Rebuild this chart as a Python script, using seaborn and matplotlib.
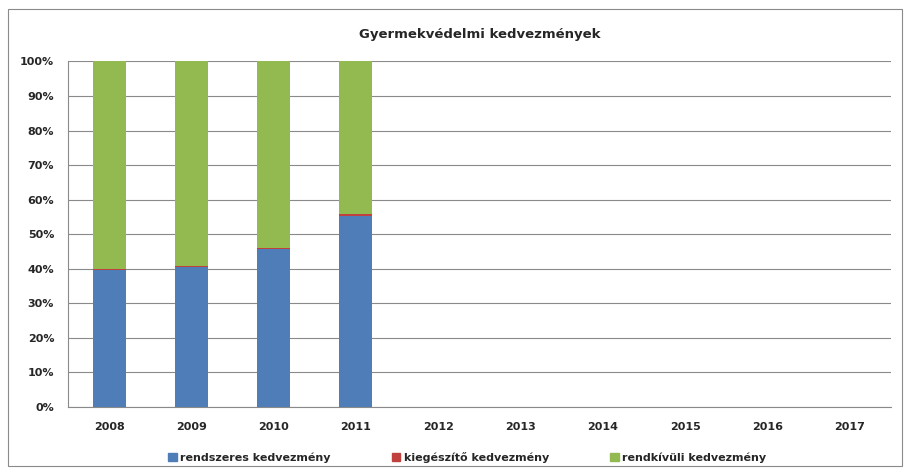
import numpy as np
import pandas as pd
import matplotlib
matplotlib.use("Agg")
import matplotlib.pyplot as plt
import seaborn as sns
from matplotlib.patches import Rectangle

# data (shares in %)
years = ["2008", "2009", "2010", "2011", "2012", "2013", "2014", "2015", "2016", "2017"]
rendszeres = [39.5, 40.5, 45.7, 55.2, 0, 0, 0, 0, 0, 0]
kiegeszito = [0.3, 0.3, 0.4, 0.5, 0, 0, 0, 0, 0, 0]
rendkivuli = [60.2, 59.2, 53.9, 44.3, 0, 0, 0, 0, 0, 0]
series_names = ["rendszeres kedvezmény", "kiegészítő kedvezmény", "rendkívüli kedvezmény"]
colors = ["#4F7DB8", "#C0403D", "#93BA50"]

df = pd.DataFrame({"year": years, "a": rendszeres, "b": kiegeszito, "c": rendkivuli})
df["ab"] = df["a"] + df["b"]
df["abc"] = df["ab"] + df["c"]

sns.set_style("white")
plt.rcParams["font.family"] = ["DejaVu Sans"]

fig = plt.figure(figsize=(9.07, 4.73), dpi=100)
ax = fig.add_axes([0.075, 0.14, 0.907, 0.73])

# stacked bars: draw cumulative totals from top down
for col, c in zip(["abc", "ab", "a"], colors[::-1]):
    sns.barplot(data=df, x="year", y=col, color=c, width=0.4, ax=ax,
                saturation=1, linewidth=0, zorder=3)

ax.set_ylim(0, 100)
ax.set_yticks(np.arange(0, 101, 10))
ax.set_yticklabels([f"{v}%" for v in range(0, 101, 10)], fontsize=8, fontweight="bold")
ax.set_xticks(range(len(years)))
ax.set_xticklabels(years, fontsize=8, fontweight="bold")
ax.set_xlim(-0.5, len(years) - 0.5)
ax.set_xlabel("")
ax.set_ylabel("")
ax.grid(axis="y", color="#8a8a8a", linewidth=0.8, zorder=0)
ax.set_axisbelow(True)
for s in ["top", "right"]:
    ax.spines[s].set_visible(False)
ax.spines["left"].set_color("#8a8a8a")
ax.spines["bottom"].set_color("#8a8a8a")
ax.tick_params(axis="y", length=4, color="#8a8a8a", pad=6)
ax.tick_params(axis="x", length=0, pad=11)
# minor x ticks at category boundaries
ax.set_xticks(np.arange(-0.5, len(years), 1), minor=True)
ax.tick_params(axis="x", which="minor", length=4, color="#8a8a8a")

ax.set_title("Gyermekvédelmi kedvezmények", fontsize=9.5, fontweight="bold", pad=17)

handles = [Rectangle((0, 0), 1, 1, color=c) for c in colors]
fig.legend(handles, series_names, loc="lower center", ncol=3, frameon=False,
           bbox_to_anchor=(0.515, 0.0), handlelength=0.8,
           handleheight=0.8, handletextpad=0.3, columnspacing=5.5,
           prop={"weight": "bold", "size": 8})

# outer chart border
fig.patches.append(Rectangle((0.009, 0.015), 0.985, 0.965, transform=fig.transFigure,
                             fill=False, edgecolor="#8a8a8a", linewidth=0.8))

fig.savefig("out.png", dpi=100)
